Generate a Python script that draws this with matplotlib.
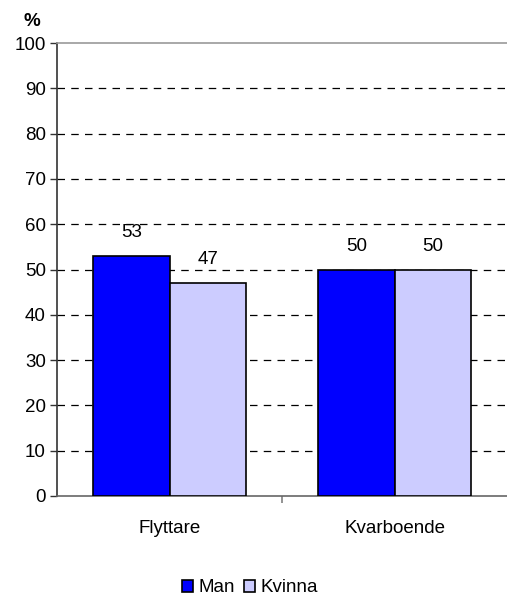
import matplotlib
matplotlib.use("Agg")
import matplotlib.pyplot as plt
import numpy as np

categories = ["Flyttare", "Kvarboende"]
series_names = ["Man", "Kvinna"]
man = [53, 50]
kvinna = [47, 50]
yticks = [0, 10, 20, 30, 40, 50, 60, 70, 80, 90, 100]

plt.rcParams['font.family'] = ['Liberation Sans', 'DejaVu Sans']

fig = plt.figure(figsize=(5.07, 5.99), dpi=100)
ax = fig.add_axes([57/507, 1-496/599, 450/507, (496-43)/599])

x = np.arange(len(categories))
w = 0.34
b1 = ax.bar(x - w/2, man, w, color="#0000FF", edgecolor="black", linewidth=1.2, label=series_names[0], zorder=3)
b2 = ax.bar(x + w/2, kvinna, w, color="#CCCCFF", edgecolor="black", linewidth=1.2, label=series_names[1], zorder=3)

for bars, vals in ((b1, man), (b2, kvinna)):
    for r, v in zip(bars, vals):
        ax.text(r.get_x() + r.get_width()/2, v + 3.3, f"{v}", ha="center", va="bottom", fontsize=13.5)

ax.set_xlim(-0.5, 1.5)
ax.set_ylim(0, 100)
ax.set_yticks(yticks)
ax.set_yticklabels([str(t) for t in yticks], fontsize=13.5)
ax.set_xticks([0.5])
ax.set_xticklabels([""])
ax.tick_params(axis='x', length=5, color="#808080", width=1.2, direction='out')
ax.tick_params(axis='y', length=5, color="#333333", width=1, pad=3)
for c, lab in zip(x, categories):
    ax.text(c, -7.2, lab, ha="center", va="center", fontsize=13.5, transform=ax.transData)

for t in yticks[1:-1]:
    ax.axhline(t, color="black", linestyle=(0, (6, 5)), linewidth=0.9, zorder=1)

ax.spines['right'].set_visible(False)
ax.spines['top'].set_color("#999999")
ax.spines['top'].set_linewidth(1.2)
ax.spines['bottom'].set_color("#666666")
ax.spines['bottom'].set_linewidth(1.2)
ax.spines['left'].set_color("#333333")
ax.spines['left'].set_linewidth(1.2)

fig.text(32/507, 1-22/599, "%", fontsize=13.5, fontweight="bold", ha="center", va="center")

fig.legend(handles=[b1, b2], labels=series_names, loc="center", bbox_to_anchor=(250/507, 1-588/599),
           ncol=2, frameon=False, fontsize=13.5, handlelength=0.55, handleheight=0.55,
           handletextpad=0.3, columnspacing=0.5, borderpad=0)

fig.savefig("out.png", dpi=100)
